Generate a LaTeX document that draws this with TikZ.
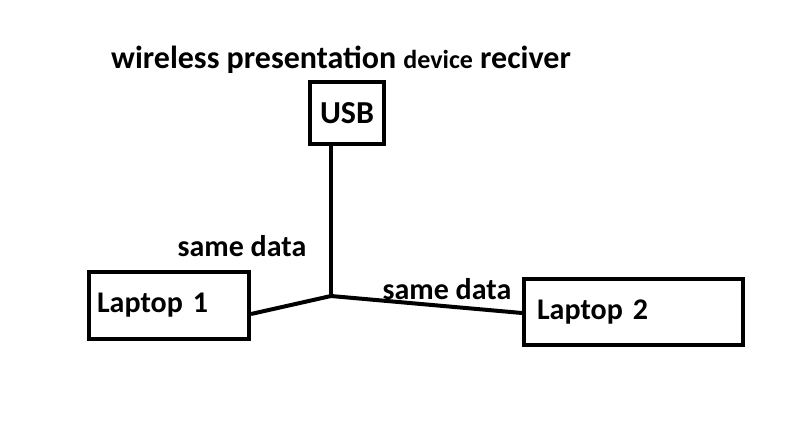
\documentclass[tikz,border=0pt]{standalone}
\usepackage{fontspec}
\setmainfont{Carlito}
\begin{document}
\begin{tikzpicture}[x=1pt,y=-1pt,
  box/.style={draw,line width=4pt,inner sep=0pt},
  big/.style={font=\bfseries\fontsize{30}{34}\selectfont},
  lbl/.style={big,inner sep=0pt},
  wire/.style={line width=4pt}]
\useasboundingbox[fill=white] (0,0) rectangle (795,442);
\node[lbl,font=\bfseries\fontsize{32}{36}\selectfont,anchor=base west] (title) at (111,68)
  {wireless presentation {\fontsize{26}{30}\selectfont device} reciver};
\node[box,minimum width=74pt,minimum height=62pt,font=\bfseries\fontsize{32}{36}\selectfont] (usb) at (347,113) {USB};
\node[box,big,text width=144pt,align=left,inner xsep=8pt,minimum height=67pt] (l1) at (169,305.5) {Laptop 1};
\node[box,big,text width=193pt,align=left,inner xsep=13pt,minimum height=66pt] (l2) at (633.5,312) {Laptop 2};
\coordinate (j) at (331,296);
\node[lbl] (d1) at (242,246) {same data};
\node[lbl] (d2) at (447,289) {same data};
\draw[wire] (usb.south -| j) -- (j);
\draw[wire] (l1.east |- 0,314) -- (j) -- (l2.west |- 0,313);
\end{tikzpicture}
\end{document}
